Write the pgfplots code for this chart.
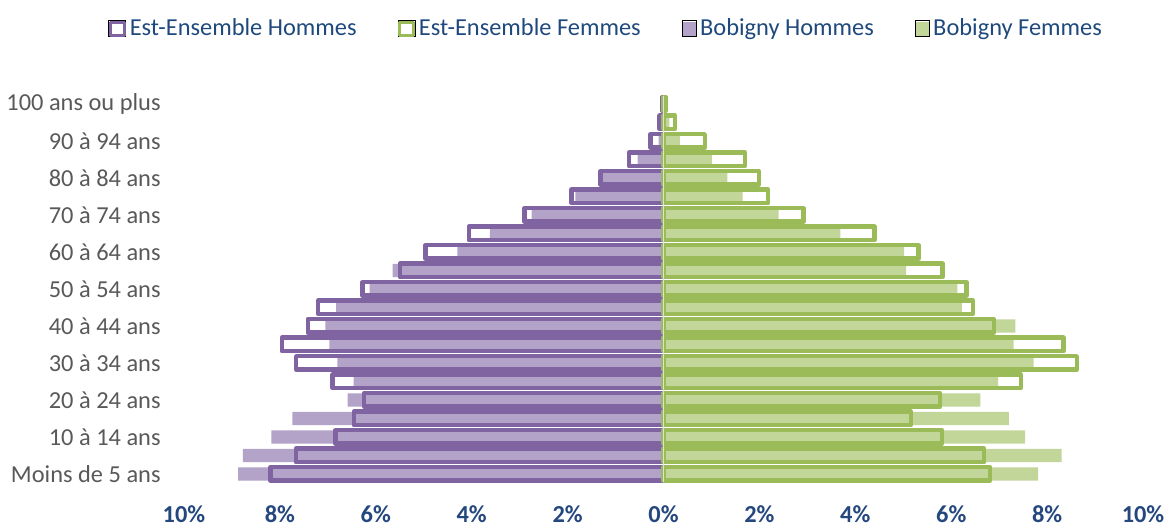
\documentclass[border=0pt]{standalone}
\usepackage{pgfplots}
\pgfplotsset{compat=1.18}
\usepackage{pgfplotstable}
\usepackage{fontspec}
\setmainfont{Carlito}
\definecolor{estH}{HTML}{8064A2}
\definecolor{bobH}{HTML}{B4A3C9}
\definecolor{estF}{HTML}{9BBB59}
\definecolor{bobF}{HTML}{C2D69A}
\definecolor{txtblue}{HTML}{1F497D}
\definecolor{tickblue}{HTML}{24487E}
\definecolor{lblgray}{HTML}{595959}

\pgfplotstableread{
age estH bobH estF bobF
0  -8.20 -8.87 6.81 7.81
1  -7.67 -8.77 6.69 8.30
2  -6.84 -8.18 5.81 7.54
3  -6.46 -7.74 5.16 7.20
4  -6.24 -6.59 5.77 6.61
5  -6.90 -6.46 7.45 6.98
6  -7.66 -6.80 8.62 7.72
7  -7.96 -6.97 8.34 7.30
8  -7.42 -7.05 6.89 7.34
9  -7.20 -6.83 6.45 6.22
10 -6.28 -6.13 6.32 6.13
11 -5.50 -5.65 5.82 5.06
12 -4.96 -4.30 5.32 5.02
13 -4.06 -3.62 4.40 3.69
14 -2.90 -2.75 2.92 2.40
15 -1.92 -1.84 2.18 1.65
16 -1.31 -1.26 1.99 1.33
17 -0.72 -0.54 1.70 1.01
18 -0.27 -0.10 0.86 0.34
19 -0.08 -0.04 0.24 0.12
20 -0.03 -0.02 0.05 0.05
}\data

\newcommand{\fs}{\fontsize{12.2}{14}\selectfont}

\begin{document}
\begin{tikzpicture}
\path[use as bounding box] (-92pt,-22.4pt) rectangle (493pt,241.6pt);
\begin{axis}[
  at={(0,0)}, anchor=south west,
  scale only axis, width=479.5pt, height=194.25pt,
  xmin=-10, xmax=10, ymin=-0.5, ymax=20.5,
  xtick={-10,-8,...,10},
  xticklabels={10\%,8\%,6\%,4\%,2\%,0\%,2\%,4\%,6\%,8\%,10\%},
  ytick={0,2,...,20},
  yticklabels={Moins de 5 ans,10 à 14 ans,20 à 24 ans,30 à 34 ans,40 à 44 ans,50 à 54 ans,60 à 64 ans,70 à 74 ans,80 à 84 ans,90 à 94 ans,100 ans ou plus},
  axis line style={draw=none},
  major tick length=0pt,
  tick style={draw=none},
  xticklabel style={font=\fs\bfseries, text=tickblue, anchor=center, yshift=-15.3pt},
  yticklabel style={font=\fs, text=lblgray, anchor=east, inner sep=0pt, xshift=-11.5pt},
  xbar, bar shift=0pt,
  clip=false,
  legend columns=4,
  legend style={draw=none, fill=none, at={(0,1)}, anchor=west, xshift=-38pt, yshift=32.9pt,
    font=\fs, text=txtblue, inner sep=0pt,
    nodes={inner sep=0pt},
    /tikz/every odd column/.append style={column sep=1.8pt},
    /tikz/every even column/.append style={column sep=20.5pt}},
]
\addlegendimage{legend image code/.code={
  \path (0pt,-4pt) rectangle (8.5pt,4pt);
  \draw[estH, line width=1.6pt, fill=white, line join=round] (0.8pt,-3.3pt) rectangle (7.7pt,3.3pt);}}
\addlegendentry{Est-Ensemble Hommes}
\addlegendimage{legend image code/.code={
  \path (0pt,-4pt) rectangle (8.5pt,4pt);
  \draw[estF, line width=1.6pt, fill=white, line join=round] (0.8pt,-3.3pt) rectangle (7.7pt,3.3pt);}}
\addlegendentry{Est-Ensemble Femmes}
\addlegendimage{legend image code/.code={
  \path (0pt,-4pt) rectangle (7pt,4pt);
  \fill[bobH] (0.5pt,-3.3pt) rectangle (6.8pt,3.3pt);}}
\addlegendentry{Bobigny Hommes}
\addlegendimage{legend image code/.code={
  \path (0pt,-4pt) rectangle (7pt,4pt);
  \fill[bobF] (0.5pt,-3.3pt) rectangle (6.8pt,3.3pt);}}
\addlegendentry{Bobigny Femmes}

\addplot[forget plot, xbar, bar shift=0pt, bar width=6.6pt, fill=bobH, draw=none] table[x=bobH, y=age] {\data};
\addplot[forget plot, xbar, bar shift=0pt, bar width=6.6pt, fill=bobF, draw=none] table[x=bobF, y=age] {\data};
\addplot[forget plot, xbar, bar shift=0pt, bar width=6.75pt, fill=none, draw=estH, line width=2.2pt, line join=round] table[x=estH, y=age] {\data};
\addplot[forget plot, xbar, bar shift=0pt, bar width=6.75pt, fill=none, draw=estF, line width=2.2pt, line join=round] table[x=estF, y=age] {\data};
\draw[gray!25, line width=0.8pt] (axis cs:0,-0.45) -- (axis cs:0,20.45);
\end{axis}
\end{tikzpicture}
\end{document}
